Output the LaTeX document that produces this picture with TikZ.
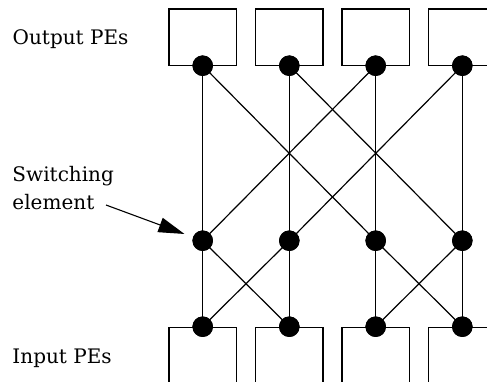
\documentclass[tikz,border=0pt]{standalone}
\usepackage{fontspec}
\setmainfont{DejaVu Serif}
\usetikzlibrary{arrows.meta}
\begin{document}
\begin{tikzpicture}[x=1pt,y=-1pt,
  pe/.style={draw,line width=1.2pt,minimum width=67.5pt,minimum height=56.7pt,inner sep=0pt},
  inpe/.style={draw,line width=1.2pt,minimum width=67.5pt,minimum height=120pt,inner sep=0pt,anchor=north},
  sw/.style={circle,fill=black,minimum size=20.5pt,inner sep=0pt},
  wire/.style={line width=1.2pt},
  lbl/.style={font=\fontsize{20}{27.6}\selectfont,inner sep=0pt,anchor=base west},
  arr/.style={line width=1.1pt,-{Triangle[length=26pt,width=15pt]}}]
\useasboundingbox (0,0) rectangle (487,381);
\clip (0,0) rectangle (487,381);
\foreach \i/\x in {1/202.7,2/289.3,3/375.7,4/462.3}{
  \node[pe] (ob\i) at (\x,37.35) {};
  \node[inpe] (ib\i) at (\x,326.7) {};
  \coordinate (tc\i) at (\x,65.7);
  \coordinate (mc\i) at (\x,240.7);
  \coordinate (bc\i) at (\x,326.7);
}
\foreach \i in {1,...,4}{
  \node[sw] (t\i) at (tc\i) {};
  \node[sw] (m\i) at (mc\i) {};
  \node[sw] (b\i) at (bc\i) {};
}
\foreach \a/\b in {t1/m1,t2/m2,t3/m3,t4/m4,t1/m3,t2/m4,t3/m1,t4/m2,
                   m1/b1,m2/b2,m3/b3,m4/b4,m1/b2,m2/b1,m3/b4,m4/b3}{
  \draw[wire] (\a.center) -- (\b.center);
}
\foreach \i in {1,...,4}{
  \fill (tc\i) circle (10.25pt);
  \fill (mc\i) circle (10.25pt);
  \fill (bc\i) circle (10.25pt);
}
\node[lbl] (outl) at (12.5,44.3) {Output PEs};
\node[lbl] (inl) at (12.3,363.3) {Input PEs};
\node[lbl,align=left] (swl) at (12.3,209.3) {Switching\\element};
\coordinate (atail) at (106,205);
\draw[arr,shorten >=9pt] (atail) -- (m1);
\end{tikzpicture}
\end{document}
